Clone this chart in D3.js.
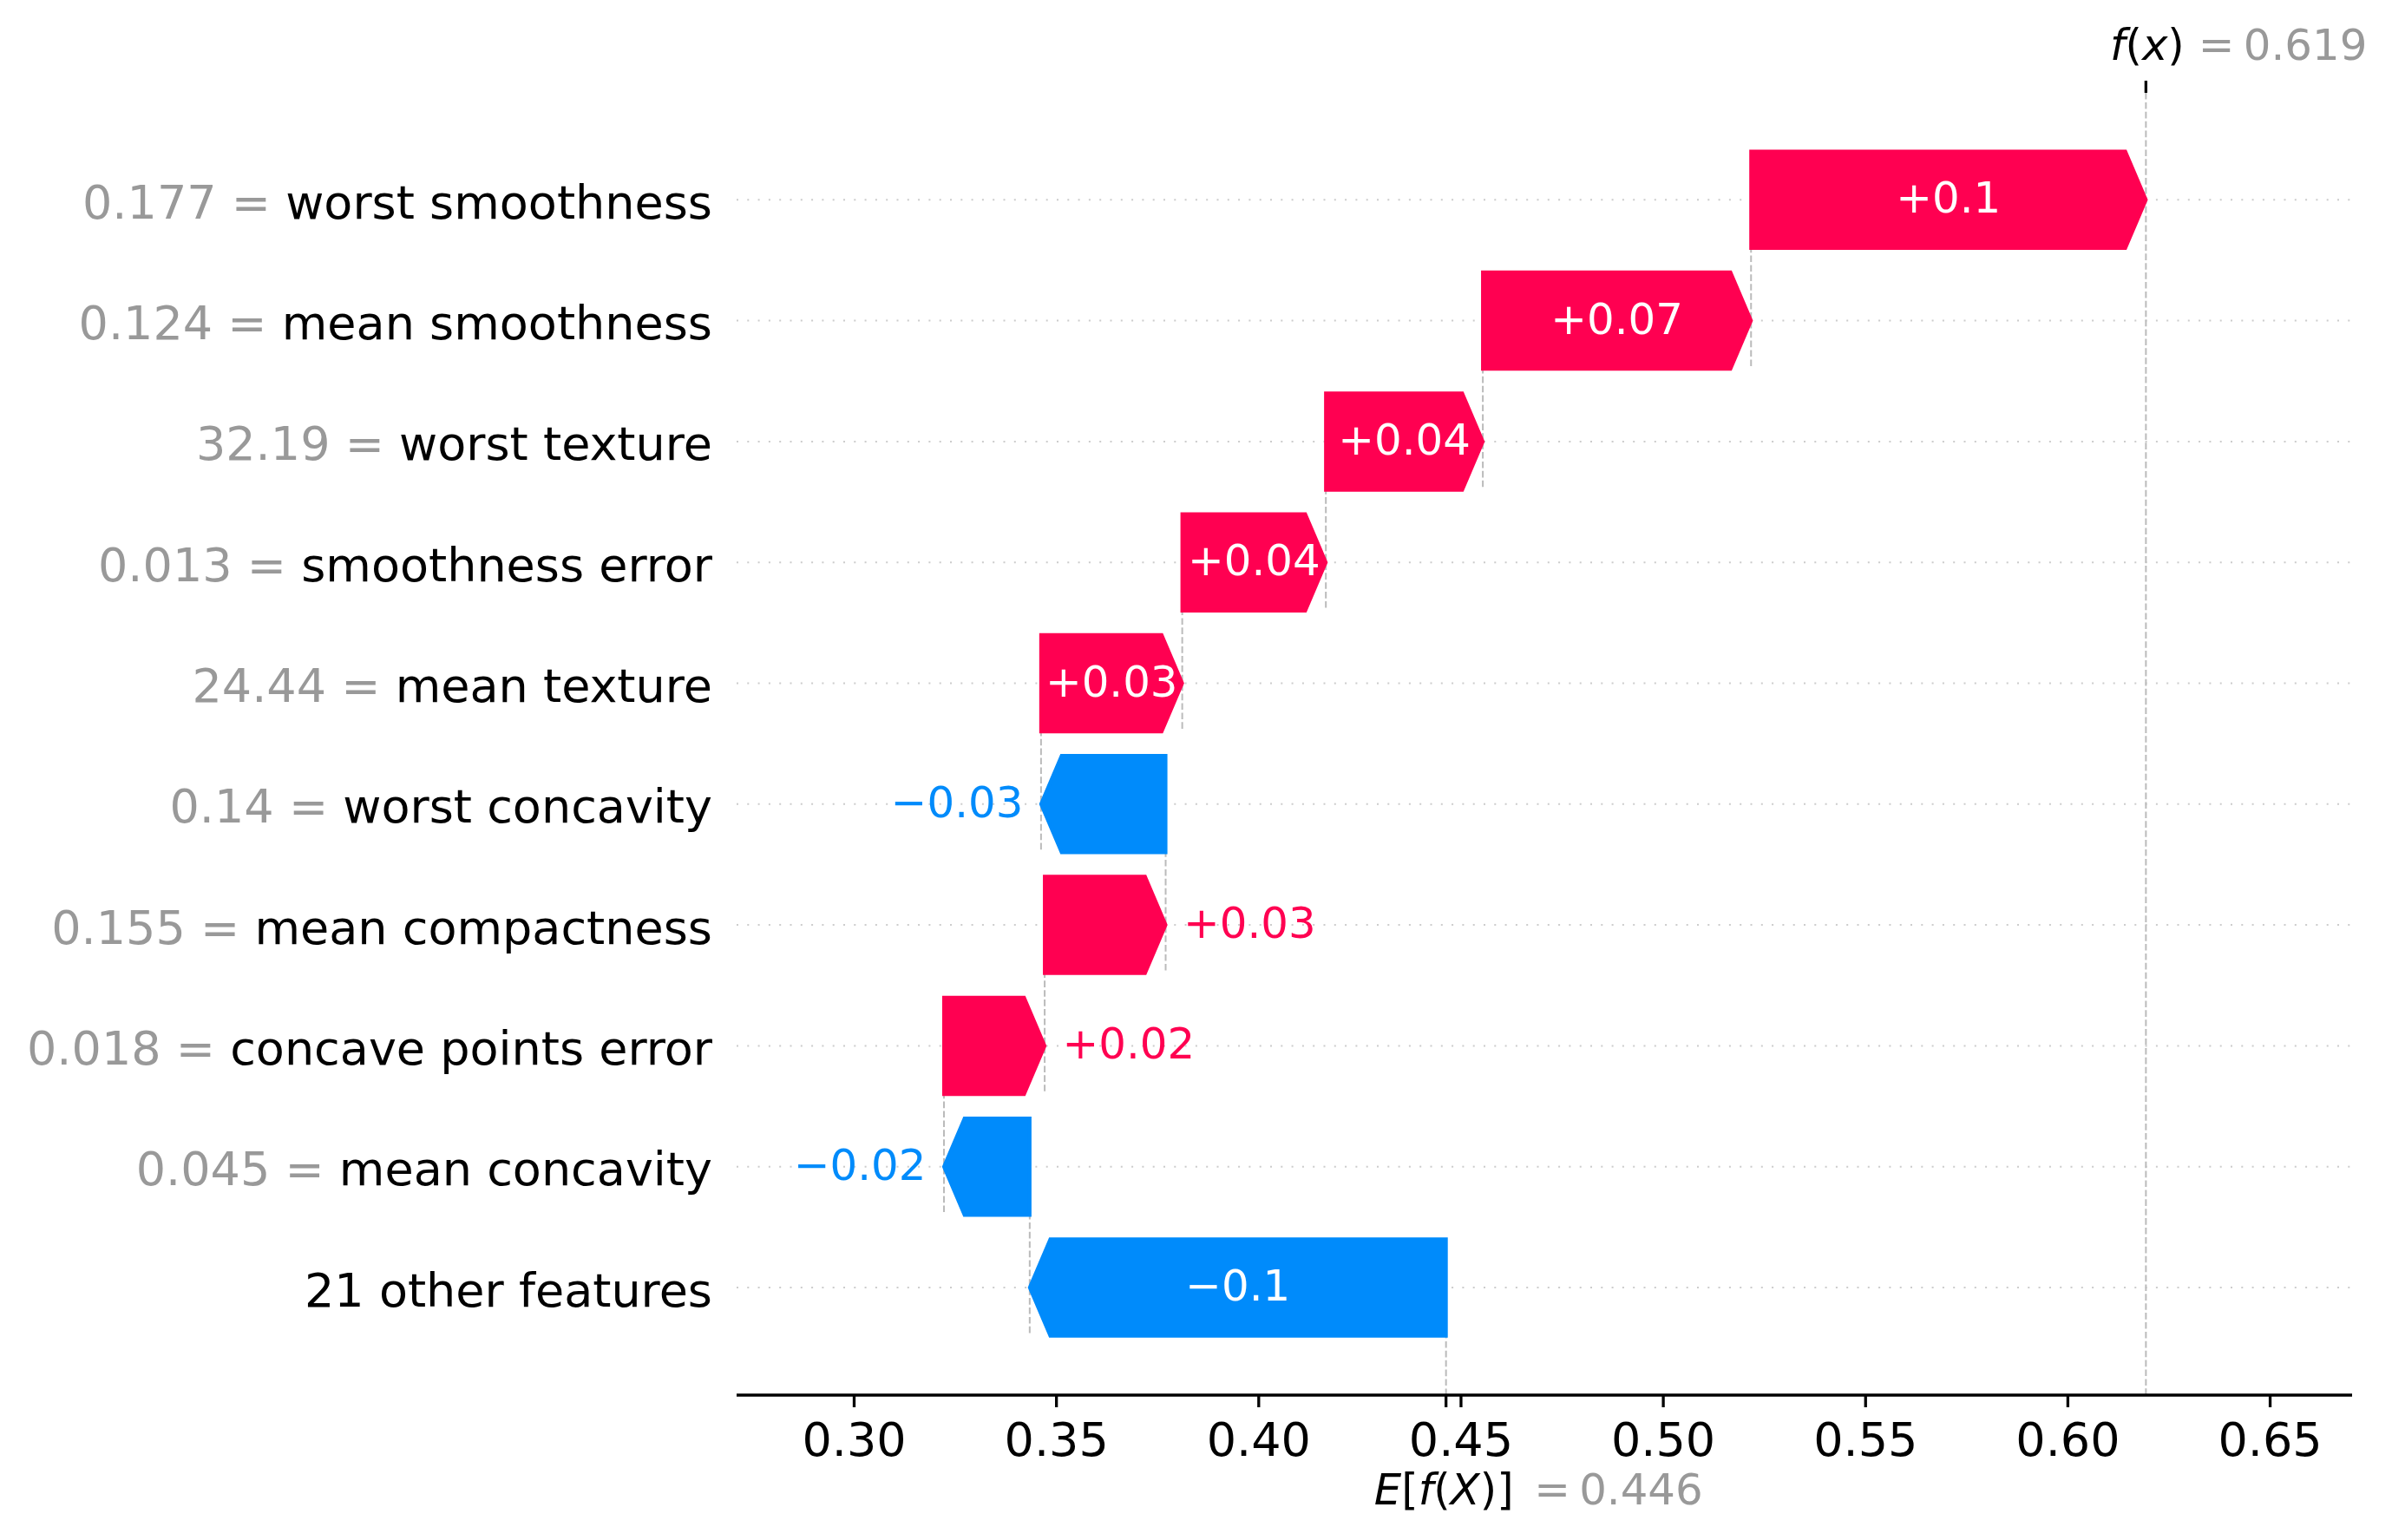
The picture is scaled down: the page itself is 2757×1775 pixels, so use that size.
<!DOCTYPE html>
<html>
<head>
<meta charset="utf-8">
<script src="https://cdn.jsdelivr.net/npm/d3@7"></script>
<style>
  html, body { margin: 0; padding: 0; background: #ffffff; }
  svg { display: block; font-family: "DejaVu Sans", sans-serif; }
</style>
</head>
<body>
<svg id="chart" width="2757" height="1775"></svg>
<script>
// ---------------- data ----------------
const featureNames = ["worst smoothness", "mean smoothness", "worst texture", "smoothness error",
  "mean texture", "worst concavity", "mean compactness", "concave points error",
  "mean concavity", "21 other features"];
const featureValues = [0.177, 0.124, 32.19, 0.013, 24.44, 0.14, 0.155, 0.018, 0.045, null];
const shapValues = [0.0976, 0.0663, 0.0388, 0.0355, 0.0349, -0.0308, 0.0299, 0.0249, -0.0212, -0.1029];
const baseValue = 0.4464;
const xTickValues = [0.30, 0.35, 0.40, 0.45, 0.50, 0.55, 0.60, 0.65];

// ---------------- style ----------------
const RED = "#ff0051", BLUE = "#008bfb", GRAY = "#999999";
const TICK_FS = 54, TEXT_FS = 49.8;
const axLeft = 849, axRight = 2711, axTop = 107, axBottom = 1608;

const svg = d3.select("#chart");

const x = d3.scaleLinear()
  .domain([0.30 - 135 / 4663, 0.30 + 1727 / 4663])
  .range([axLeft, axRight]);
const y = d3.scaleLinear().domain([0, featureNames.length - 1]).range([230.3, 1484.0]);
const band = y(1) - y(0);
const halfH = 0.4 * band;
const headLen = 23.7;

function formatValue(v, fmt) {
  let s;
  if (fmt === "+") s = (v >= 0 ? "+" : "-") + Math.abs(v).toFixed(2);
  else s = v.toFixed(3);
  s = s.replace(/\.?0+$/, "");
  if (s[0] === "-") s = "\u2212" + s.slice(1);
  return s;
}

// cumulative positions
const n = shapValues.length;
const starts = new Array(n), ends = new Array(n);
let cum = baseValue;
for (let i = n - 1; i >= 0; i--) {
  starts[i] = cum;
  cum += shapValues[i];
  ends[i] = cum;
}
const fx = cum;

// ---------------- background lines ----------------
const gBack = svg.append("g");
featureNames.forEach((d, i) => {
  gBack.append("line")
    .attr("x1", axLeft).attr("x2", axRight)
    .attr("y1", y(i)).attr("y2", y(i))
    .attr("stroke", "#cccccc").attr("stroke-width", 2)
    .attr("stroke-dasharray", "2,10.3");
});
for (let i = 0; i < n - 1; i++) {
  gBack.append("line")
    .attr("x1", x(starts[i])).attr("x2", x(starts[i]))
    .attr("y1", y(i) - halfH).attr("y2", y(i + 1) + halfH)
    .attr("stroke", "#bbbbbb").attr("stroke-width", 2)
    .attr("stroke-dasharray", "7.6,3.3");
}
gBack.append("line")
  .attr("x1", x(fx)).attr("x2", x(fx))
  .attr("y1", axTop).attr("y2", axBottom)
  .attr("stroke", "#bbbbbb").attr("stroke-width", 2)
  .attr("stroke-dasharray", "7.6,3.3");
gBack.append("line")
  .attr("x1", x(baseValue)).attr("x2", x(baseValue))
  .attr("y1", axBottom).attr("y2", axBottom - (axBottom - axTop) / n)
  .attr("stroke", "#bbbbbb").attr("stroke-width", 2)
  .attr("stroke-dasharray", "7.6,3.3");

// ---------------- bars ----------------
const gBars = svg.append("g");
const gText = svg.append("g");
shapValues.forEach((v, i) => {
  const x0 = x(starts[i]), x1 = x(ends[i]);
  const cy = y(i), top = cy - halfH, bot = cy + halfH;
  const hl = Math.min(Math.abs(x1 - x0), headLen);
  const col = v >= 0 ? RED : BLUE;
  const pts = v >= 0
    ? [[x0, top], [x1 - hl, top], [x1, cy], [x1 - hl, bot], [x0, bot]]
    : [[x0, top], [x1 + hl, top], [x1, cy], [x1 + hl, bot], [x0, bot]];
  gBars.append("polygon")
    .attr("points", pts.map(p => p.join(",")).join(" "))
    .attr("fill", col).attr("stroke", col)
    .attr("stroke-width", 4.1).attr("stroke-linejoin", "miter");

  const label = formatValue(v, "+");
  const t = gText.append("text")
    .attr("x", (x0 + x1) / 2).attr("y", cy + 15)
    .attr("text-anchor", "middle")
    .attr("font-size", TEXT_FS).attr("fill", "#ffffff")
    .text(label);
  const tw = t.node().getComputedTextLength();
  const barW = Math.abs(x1 - x0) + 4.1;
  if (tw > barW) {
    if (v >= 0) {
      t.attr("x", x1 + 20.5).attr("text-anchor", "start").attr("fill", col);
    } else {
      t.attr("x", x1 - 20.5).attr("text-anchor", "end").attr("fill", col);
    }
  }
});

// ---------------- y labels ----------------
const gY = svg.append("g");
featureNames.forEach((name, i) => {
  const t = gY.append("text")
    .attr("x", 821).attr("y", y(i) + 21.5)
    .attr("text-anchor", "end")
    .attr("font-size", TICK_FS);
  if (featureValues[i] !== null) {
    t.append("tspan").attr("fill", GRAY).text(formatValue(featureValues[i], "v") + " = ");
  }
  t.append("tspan").attr("fill", "#000000").text(name);
});

// ---------------- x axis ----------------
const xAxis = d3.axisBottom(x)
  .tickValues(xTickValues)
  .tickFormat(d3.format(".2f"))
  .tickSize(14)
  .tickPadding(0);
const gAx = svg.append("g").attr("transform", `translate(0,${axBottom})`).call(xAxis);
gAx.select(".domain").attr("d", `M${axLeft},0H${axRight}`)
  .attr("stroke", "#000").attr("stroke-width", 3.6);
gAx.selectAll(".tick line").attr("stroke", "#000").attr("stroke-width", 3.3);
gAx.selectAll(".tick text")
  .attr("font-family", "DejaVu Sans").attr("font-size", TICK_FS)
  .attr("fill", "#000").attr("dy", null).attr("y", 1678.3 - axBottom);

svg.append("line")
  .attr("x1", x(baseValue)).attr("x2", x(baseValue))
  .attr("y1", axBottom).attr("y2", axBottom + 14)
  .attr("stroke", "#000").attr("stroke-width", 3.3);
svg.append("line")
  .attr("x1", x(fx)).attr("x2", x(fx))
  .attr("y1", axTop).attr("y2", axTop - 14)
  .attr("stroke", "#000").attr("stroke-width", 3.3);

// ---------------- f(x) and E[f(X)] labels ----------------
function mathLabel(g, parts, cx, by) {
  const t = g.append("text").attr("x", cx).attr("y", by)
    .attr("text-anchor", "middle").attr("font-size", TEXT_FS).attr("fill", "#000");
  parts.forEach(p => {
    t.append("tspan").attr("font-style", p[1] ? "italic" : "normal").text(p[0]);
  });
  return t;
}
const gLab = svg.append("g");
const xf = x(fx), xb = x(baseValue);
mathLabel(gLab, [["f", true], ["(", false], ["x", true], [")", false]], xf + 1.5, 69);
gLab.append("text").attr("x", xf + 60.5).attr("y", 69)
  .attr("font-size", TEXT_FS).attr("fill", GRAY).text("=");
gLab.append("text").attr("x", xf + 112.5).attr("y", 69)
  .attr("font-size", TEXT_FS).attr("fill", GRAY).text(fx.toFixed(3));

mathLabel(gLab, [["E", true], ["[", false], ["f", true], ["(", false], ["X", true], [")", false], ["]", false]], xb - 2.5, 1734.3);
gLab.append("text").attr("x", xb + 101.5).attr("y", 1734.3)
  .attr("font-size", TEXT_FS).attr("fill", GRAY).text("=");
gLab.append("text").attr("x", xb + 153.5).attr("y", 1734.3)
  .attr("font-size", TEXT_FS).attr("fill", GRAY).text(baseValue.toFixed(3));
</script>
</body>
</html>
